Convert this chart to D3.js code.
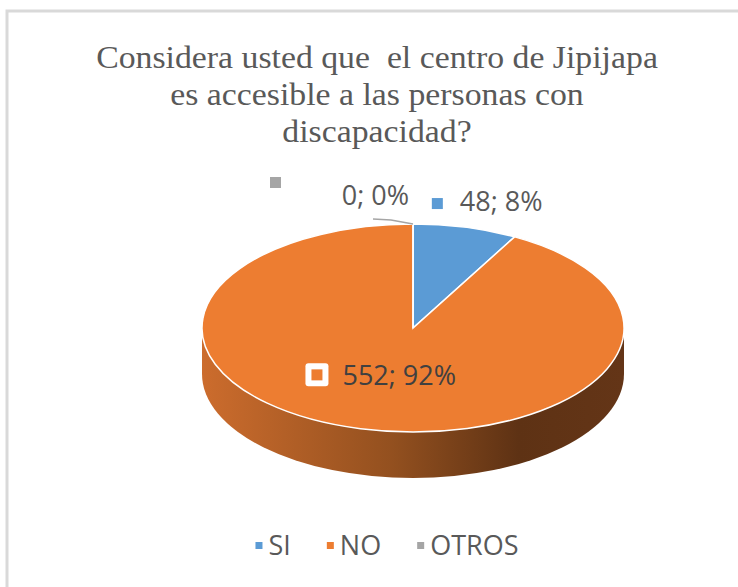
<!DOCTYPE html>
<html lang="es">
<head>
  <meta charset="UTF-8">
  <title>Jipijapa accesibilidad</title>
  <script src="https://d3js.org/d3.v7.min.js"></script>
  <style>
    body { margin: 0; background: #fff; }
    svg { display: block; }
    .title { font-family: "Liberation Serif", "Times New Roman", serif; font-size: 31px; fill: #595959; text-anchor: middle; white-space: pre; }
    .lbl { font-family: "Open Sans", sans-serif; font-size: 27px; fill: #595959; }
    .legend text { font-family: "Open Sans", sans-serif; font-size: 27px; fill: #595959; }
  </style>
</head>
<body>
  <svg width="738" height="587"></svg>
  <script>
    // data
    const categories = ["SI", "NO", "OTROS"];
    const values = [48, 552, 0];
    const colors = ["#5b9bd5", "#ed7d31", "#a5a5a5"];
    const titleLines = ["Considera usted que  el centro de Jipijapa", "es accesible a las personas con", "discapacidad?"];

    const svg = d3.select("svg");

    // chart frame (only left and top edges are visible)
    svg.append("rect")
      .attr("x", 7).attr("y", 11)
      .attr("width", 900).attr("height", 800)
      .attr("fill", "#fff")
      .attr("stroke", "#d9d9d9")
      .attr("stroke-width", 3);

    // title, a bit wider than plain Times
    const tg = svg.append("g").attr("transform", "translate(377,0) scale(1.09,1)");
    tg.selectAll("text")
      .data(titleLines)
      .enter()
      .append("text")
      .attr("class", "title")
      .attr("x", 0)
      .attr("y", (d, i) => 68 + i * 37)
      .text(d => d);

    // pie geometry
    const cx = 413, cy = 328, rx = 211, ry = 104, depth = 46;
    const total = d3.sum(values);
    const pct = d3.format(".0%");
    const rows = categories.map((c, i) => ({ cat: c, value: values[i], color: colors[i] }));

    const pie = d3.pie().sort(null).value(d => d.value);
    const arcs = pie(rows);
    const arc = d3.arc().innerRadius(0).outerRadius(rx);

    // point on the tilted ellipse for an angle (clockwise from 12 o'clock)
    function project(a, r) {
      return [cx + r * rx * Math.sin(a), cy - r * ry * Math.cos(a)];
    }

    const defs = svg.append("defs");
    const grad = defs.append("linearGradient")
      .attr("id", "side")
      .attr("gradientUnits", "userSpaceOnUse")
      .attr("x1", cx - rx).attr("x2", cx + rx)
      .attr("y1", 0).attr("y2", 0);
    [[0, "#cc6c2d"], [0.45, "#93501f"], [0.75, "#5e3214"], [1, "#643517"]].forEach(s => {
      grad.append("stop").attr("offset", s[0]).attr("stop-color", s[1]);
    });

    // side wall: front half is all the NO slice
    svg.append("path")
      .attr("d", `M${cx - rx},${cy}V${cy + depth}A${rx},${ry} 0 0 0 ${cx + rx},${cy + depth}V${cy}Z`)
      .attr("fill", "url(#side)");

    // top face
    const face = svg.append("g").attr("transform", `translate(${cx},${cy}) scale(1,${ry / rx})`);
    face.selectAll("path")
      .data(arcs)
      .enter()
      .append("path")
      .attr("d", arc)
      .attr("fill", d => d.data.color)
      .attr("stroke", "#fff")
      .attr("stroke-width", 1.5)
      .attr("vector-effect", "non-scaling-stroke");

    function labelText(d) {
      return d.data.value + "; " + pct(d.data.value / total);
    }

    // SI label, outside with small key
    const si = arcs[0];
    const pSi = project((si.startAngle + si.endAngle) / 2, 1.3);
    const gSi = svg.append("g");
    gSi.append("rect").attr("x", 0).attr("y", -13).attr("width", 11).attr("height", 11).attr("fill", si.data.color);
    const tSi = gSi.append("text").attr("class", "lbl").attr("x", 28).attr("y", 0).text(labelText(si));
    const wSi = 28 + tSi.node().getComputedTextLength();
    gSi.attr("transform", `translate(${pSi[0] + 6 - wSi / 2},${pSi[1] + 14})`);

    // OTROS label, with leader line at the top of the pie
    const ot = arcs[2];
    const pOt = project(ot.endAngle, 1);
    svg.append("path")
      .attr("d", `M${pOt[0]},${pOt[1]}L${pOt[0] - 22},${pOt[1] - 4}L${pOt[0] - 40},${pOt[1] - 5}`)
      .attr("fill", "none")
      .attr("stroke", "#a5a5a5")
      .attr("stroke-width", 1.5);
    svg.append("text")
      .attr("class", "lbl")
      .attr("x", pOt[0] - 4)
      .attr("y", pOt[1] - 19)
      .attr("text-anchor", "end")
      .text(labelText(ot));
    svg.append("rect")
      .attr("x", pOt[0] - 143).attr("y", pOt[1] - 47)
      .attr("width", 11).attr("height", 11)
      .attr("fill", ot.data.color);

    // NO label at the slice centroid, with white boxed key
    const no = arcs[1];
    const c = arc.centroid(no);
    const pNo = [cx + c[0], cy + c[1] * ry / rx];
    const gNo = svg.append("g");
    gNo.append("rect").attr("x", 0).attr("y", -12).attr("width", 23).attr("height", 23).attr("rx", 3).attr("fill", "#fff");
    gNo.append("rect").attr("x", 6).attr("y", -6).attr("width", 11).attr("height", 11).attr("fill", no.data.color);
    const tNo = gNo.append("text").attr("class", "lbl").style("fill", "#404040")
      .attr("x", 37).attr("y", 10).text(labelText(no));
    const wNo = 37 + tNo.node().getComputedTextLength();
    gNo.attr("transform", `translate(${pNo[0] - 6 - wNo / 2},${pNo[1] - 3})`);

    // legend
    const lg = svg.append("g").attr("class", "legend");
    let lx = 0;
    rows.forEach(r => {
      lg.append("rect").attr("x", lx).attr("y", -13).attr("width", 7).attr("height", 7).attr("fill", r.color);
      const t = lg.append("text").attr("x", lx + 13).attr("y", 0).text(r.cat);
      lx += 13 + t.node().getComputedTextLength() + 36;
    });
    lx -= 36;
    lg.attr("transform", `translate(${387 - lx / 2},555)`);
  </script>
</body>
</html>
